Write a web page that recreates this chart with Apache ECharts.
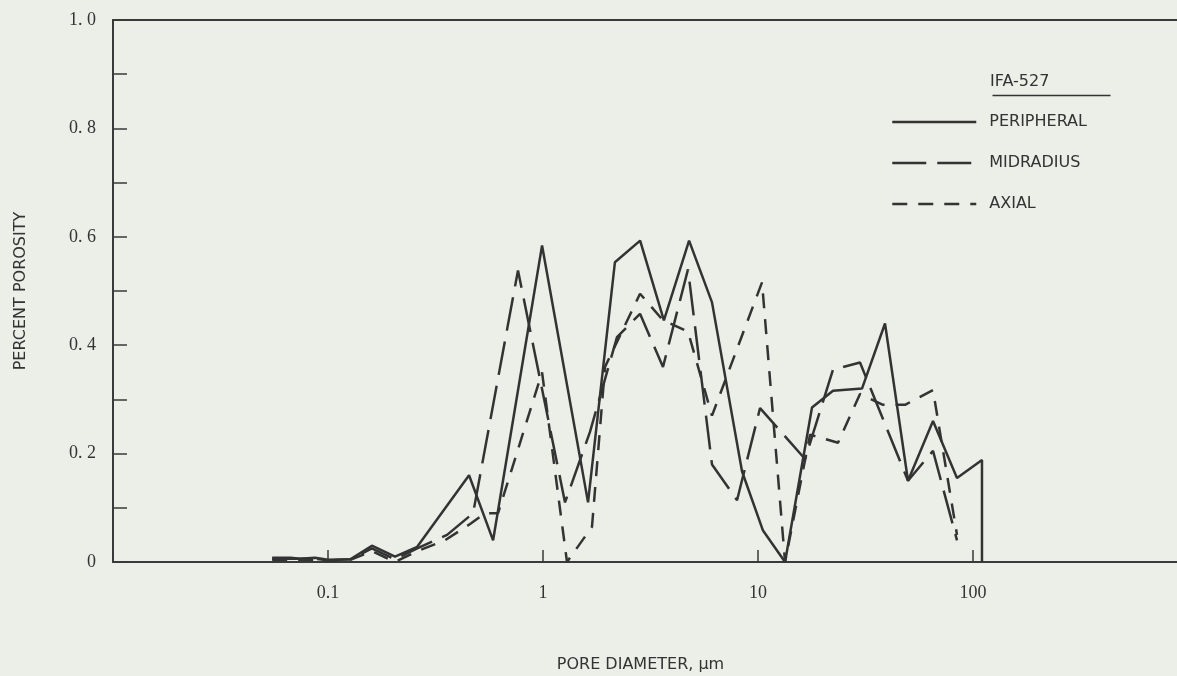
<!DOCTYPE html>
<html>
<head>
<meta charset="utf-8">
<script src="https://cdn.jsdelivr.net/npm/echarts@6/dist/echarts.min.js"></script>
<style>
  html, body { margin: 0; padding: 0; background: #eceee8; overflow: hidden; }
  /* the original figure is cropped on the right: the axis runs on to 1000 just past the edge */
  #chart { width: 1188px; height: 676px; }
</style>
</head>
<body>
<div id="chart"></div>
<script>
// pore diameter (um) , percent porosity
const peripheral = [
  [0.055, 0.008], [0.067, 0.008], [0.074, 0.006], [0.087, 0.008], [0.1, 0.004],
  [0.127, 0.005], [0.16, 0.03], [0.205, 0.01], [0.26, 0.028], [0.453, 0.16],
  [0.586, 0.04], [0.99, 0.584], [1.62, 0.11], [2.16, 0.553], [2.83, 0.593],
  [3.65, 0.446], [4.78, 0.593], [6.11, 0.479], [8.43, 0.167], [10.55, 0.058],
  [13.36, 0], [17.83, 0.285], [22.33, 0.316], [30.46, 0.32], [38.97, 0.44],
  [49.86, 0.15], [65.16, 0.26], [84.25, 0.155], [110.1, 0.188], [110.1, 0]
];
const midradius = [
  [0.055, 0.006], [0.067, 0.006], [0.087, 0.006], [0.1, 0.003], [0.127, 0.005],
  [0.16, 0.025], [0.205, 0.005], [0.26, 0.025], [0.358, 0.05], [0.473, 0.09],
  [0.765, 0.538], [1.266, 0.11], [1.654, 0.24], [2.209, 0.415], [2.827, 0.458],
  [3.615, 0.36], [4.725, 0.54], [6.11, 0.18], [7.99, 0.114], [10.22, 0.284],
  [16.55, 0.19], [22.33, 0.355], [29.82, 0.368], [49.86, 0.15], [65.16, 0.205],
  [84.25, 0.04]
];
const axial = [
  [0.055, 0.004], [0.067, 0.004], [0.087, 0.004], [0.1, 0.002], [0.127, 0.004],
  [0.16, 0.02], [0.205, 0.0], [0.26, 0.02], [0.35, 0.04], [0.458, 0.07],
  [0.537, 0.09], [0.618, 0.09], [0.99, 0.35], [1.293, 0], [1.69, 0.065],
  [1.943, 0.36], [2.827, 0.495], [3.615, 0.446], [4.725, 0.425], [6.11, 0.27],
  [10.44, 0.516], [13.36, 0], [17.46, 0.235], [23.56, 0.22], [29.82, 0.31],
  [38.14, 0.29], [48.28, 0.29], [65.16, 0.317], [84.25, 0.05]
];
const xLabelValues = [0.1, 1, 10, 100];
const yLabelValues = [0, 0.2, 0.4, 0.6, 0.8, 1.0];

const ink = '#333333';
const sansFont = '"DejaVu Sans", "Liberation Sans", sans-serif';
const tickFont = '"Liberation Serif", "DejaVu Serif", serif';

const chart = echarts.init(document.getElementById('chart'));

function lineSeries(name, data, dash) {
  return {
    name: name,
    type: 'line',
    data: data,
    symbol: 'none',
    animation: false,
    color: ink,
    itemStyle: { color: ink },
    lineStyle: { color: ink, width: 2.5, type: dash }
  };
}

const option = {
  backgroundColor: '#eceee8',
  animation: false,
  color: [ink, ink, ink],
  grid: { left: 113, top: 20, right: 0, bottom: 114, outerBoundsMode: 'none' },
  legend: {
    orient: 'vertical',
    left: 891,
    top: 114,
    padding: 0,
    itemWidth: 84,
    itemHeight: 18,
    itemGap: 25,
    itemStyle: { opacity: 0 },
    lineStyle: { width: 2.5 },
    textStyle: { color: ink, fontFamily: sansFont, fontSize: 16, padding: [0, 0, 0, 8] },
    data: ['PERIPHERAL', 'MIDRADIUS', 'AXIAL']
  },
  graphic: [
    {
      type: 'text', left: 990, top: 74,
      style: { text: 'IFA-527', fill: ink, font: '16px ' + sansFont }
    },
    {
      type: 'line', left: 990, top: 93,
      shape: { x1: 0, y1: 0, x2: 118, y2: 0 },
      style: { stroke: ink, lineWidth: 1.5 }
    }
  ],
  xAxis: [
    {
      type: 'log',
      logBase: 10,
      min: 0.01,
      max: 1000,
      name: 'PORE DIAMETER, μm',
      nameLocation: 'middle',
      nameGap: 95,
      nameTextStyle: { color: ink, fontFamily: sansFont, fontSize: 16, padding: [0, 20, 0, 0] },
      axisLine: { lineStyle: { color: '#3a3a3a', width: 2 } },
      axisTick: { inside: true, length: 12, lineStyle: { color: '#3a3a3a', width: 1.5 } },
      minorTick: { show: false },
      splitLine: { show: false },
      axisLabel: {
        margin: 22,
        color: ink,
        fontFamily: tickFont,
        fontSize: 18,
        formatter: function (v) {
          for (const t of xLabelValues) {
            if (Math.abs(v - t) / t < 1e-6) return String(t);
          }
          return '';
        }
      }
    },
    {
      type: 'log',
      logBase: 10,
      min: 0.01,
      max: 1000,
      position: 'top',
      axisLine: { show: true, lineStyle: { color: '#3a3a3a', width: 2 } },
      axisTick: { show: false },
      axisLabel: { show: false },
      splitLine: { show: false }
    }
  ],
  yAxis: {
    type: 'value',
    min: 0,
    max: 1,
    interval: 0.1,
    name: 'PERCENT POROSITY',
    nameLocation: 'middle',
    nameGap: 84,
    nameTextStyle: { color: ink, fontFamily: sansFont, fontSize: 16 },
    axisLine: { show: true, lineStyle: { color: '#3a3a3a', width: 2 } },
    axisTick: { inside: true, length: 14, lineStyle: { color: '#3a3a3a', width: 1.5 } },
    splitLine: { show: false },
    axisLabel: {
      margin: 17,
      color: ink,
      fontFamily: tickFont,
      fontSize: 18,
      formatter: function (v) {
        for (const t of yLabelValues) {
          if (Math.abs(v - t) < 1e-6) return t === 0 ? '0' : t.toFixed(1).replace('.', '. ');
        }
        return '';
      }
    }
  },
  series: [
    lineSeries('PERIPHERAL', peripheral, 'solid'),
    lineSeries('MIDRADIUS', midradius, [34, 11]),
    lineSeries('AXIAL', axial, [15, 11])
  ]
};

chart.setOption(option);
window.addEventListener('resize', function () {
  chart.resize();
});
</script>
</body>
</html>
